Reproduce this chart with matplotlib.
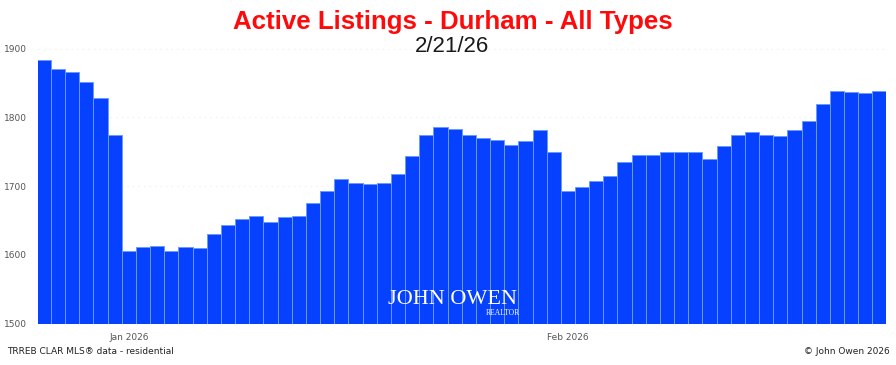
import matplotlib
matplotlib.use('Agg')
import matplotlib.pyplot as plt
import matplotlib.dates as mdates
import pandas as pd

# daily active listings, Dec 26 2025 .. Feb 23 2026
start_date = '2025-12-26'
listings = [1883, 1871, 1866, 1851, 1828, 1774,
            1606, 1611, 1613, 1605, 1612, 1610, 1631, 1643, 1652, 1657,
            1648, 1655, 1657, 1675, 1693, 1710, 1704, 1703, 1705, 1717,
            1744, 1774, 1786, 1783, 1774, 1770, 1767, 1760, 1766, 1781,
            1749, 1693, 1699, 1708, 1714, 1735, 1745, 1745, 1749, 1749,
            1749, 1740, 1758, 1775, 1779, 1774, 1773, 1782, 1795, 1819,
            1838, 1837, 1836, 1838]
dates = pd.date_range(start_date, periods=len(listings), freq='D')
tick_dates = pd.to_datetime(['2026-01-01', '2026-02-01'])
y_ticks = [1500, 1600, 1700, 1800, 1900]

title = 'Active Listings - Durham - All Types'
subtitle = '2/21/26'

fig = plt.figure(figsize=(8.96, 3.65), dpi=100)
ax = fig.add_axes([38/896, 1-323.5/365, 848/896, (323.5-40)/365])

ax.bar(dates, listings, width=1.0, color='#0541ff', edgecolor='#6a9aff',
       linewidth=0.7, zorder=2)

ax.set_ylim(1500, 1912.7)
ax.set_xlim(dates[0] - pd.Timedelta(hours=10), dates[-1] + pd.Timedelta(hours=11))
ax.set_yticks(y_ticks)
ax.set_xticks(tick_dates)
ax.xaxis.set_major_formatter(mdates.DateFormatter('%b %Y'))
ax.tick_params(axis='both', length=0, labelsize=6.5, labelcolor='#555555')
ax.tick_params(axis='y', pad=8)
ax.tick_params(axis='x', pad=7)
ax.grid(axis='y', color='#ececec', linestyle=(0, (1, 4)), linewidth=0.8, zorder=0)
for s in ax.spines.values():
    s.set_visible(False)

fig.text(0.505, 1-22/365, title, ha='center', va='center', color='#ff0a0a',
         fontsize=18.6, fontweight='bold', family='Liberation Sans')
fig.text(0.505, 1-47/365, subtitle, ha='center', va='center', color='#1a1a1a',
         fontsize=16, family='Liberation Sans')

# watermark
fig.text(452/896, 1-300/365, 'JOHN OWEN', ha='center', va='center', color='white',
         fontsize=16, family='Liberation Serif')
fig.text(520/896, 1-313/365, 'REALTOR', ha='right', va='center', color='white',
         fontsize=5.5, family='Liberation Serif')

fig.text(7/896, 1-352/365, 'TRREB CLAR MLS\u00ae data - residential', ha='left',
         va='center', fontsize=6.5, color='#222222')
fig.text(890/896, 1-351/365, '\u00a9 John Owen 2026', ha='right', va='center',
         fontsize=6.5, color='#222222')

fig.savefig('out.png', dpi=100)
